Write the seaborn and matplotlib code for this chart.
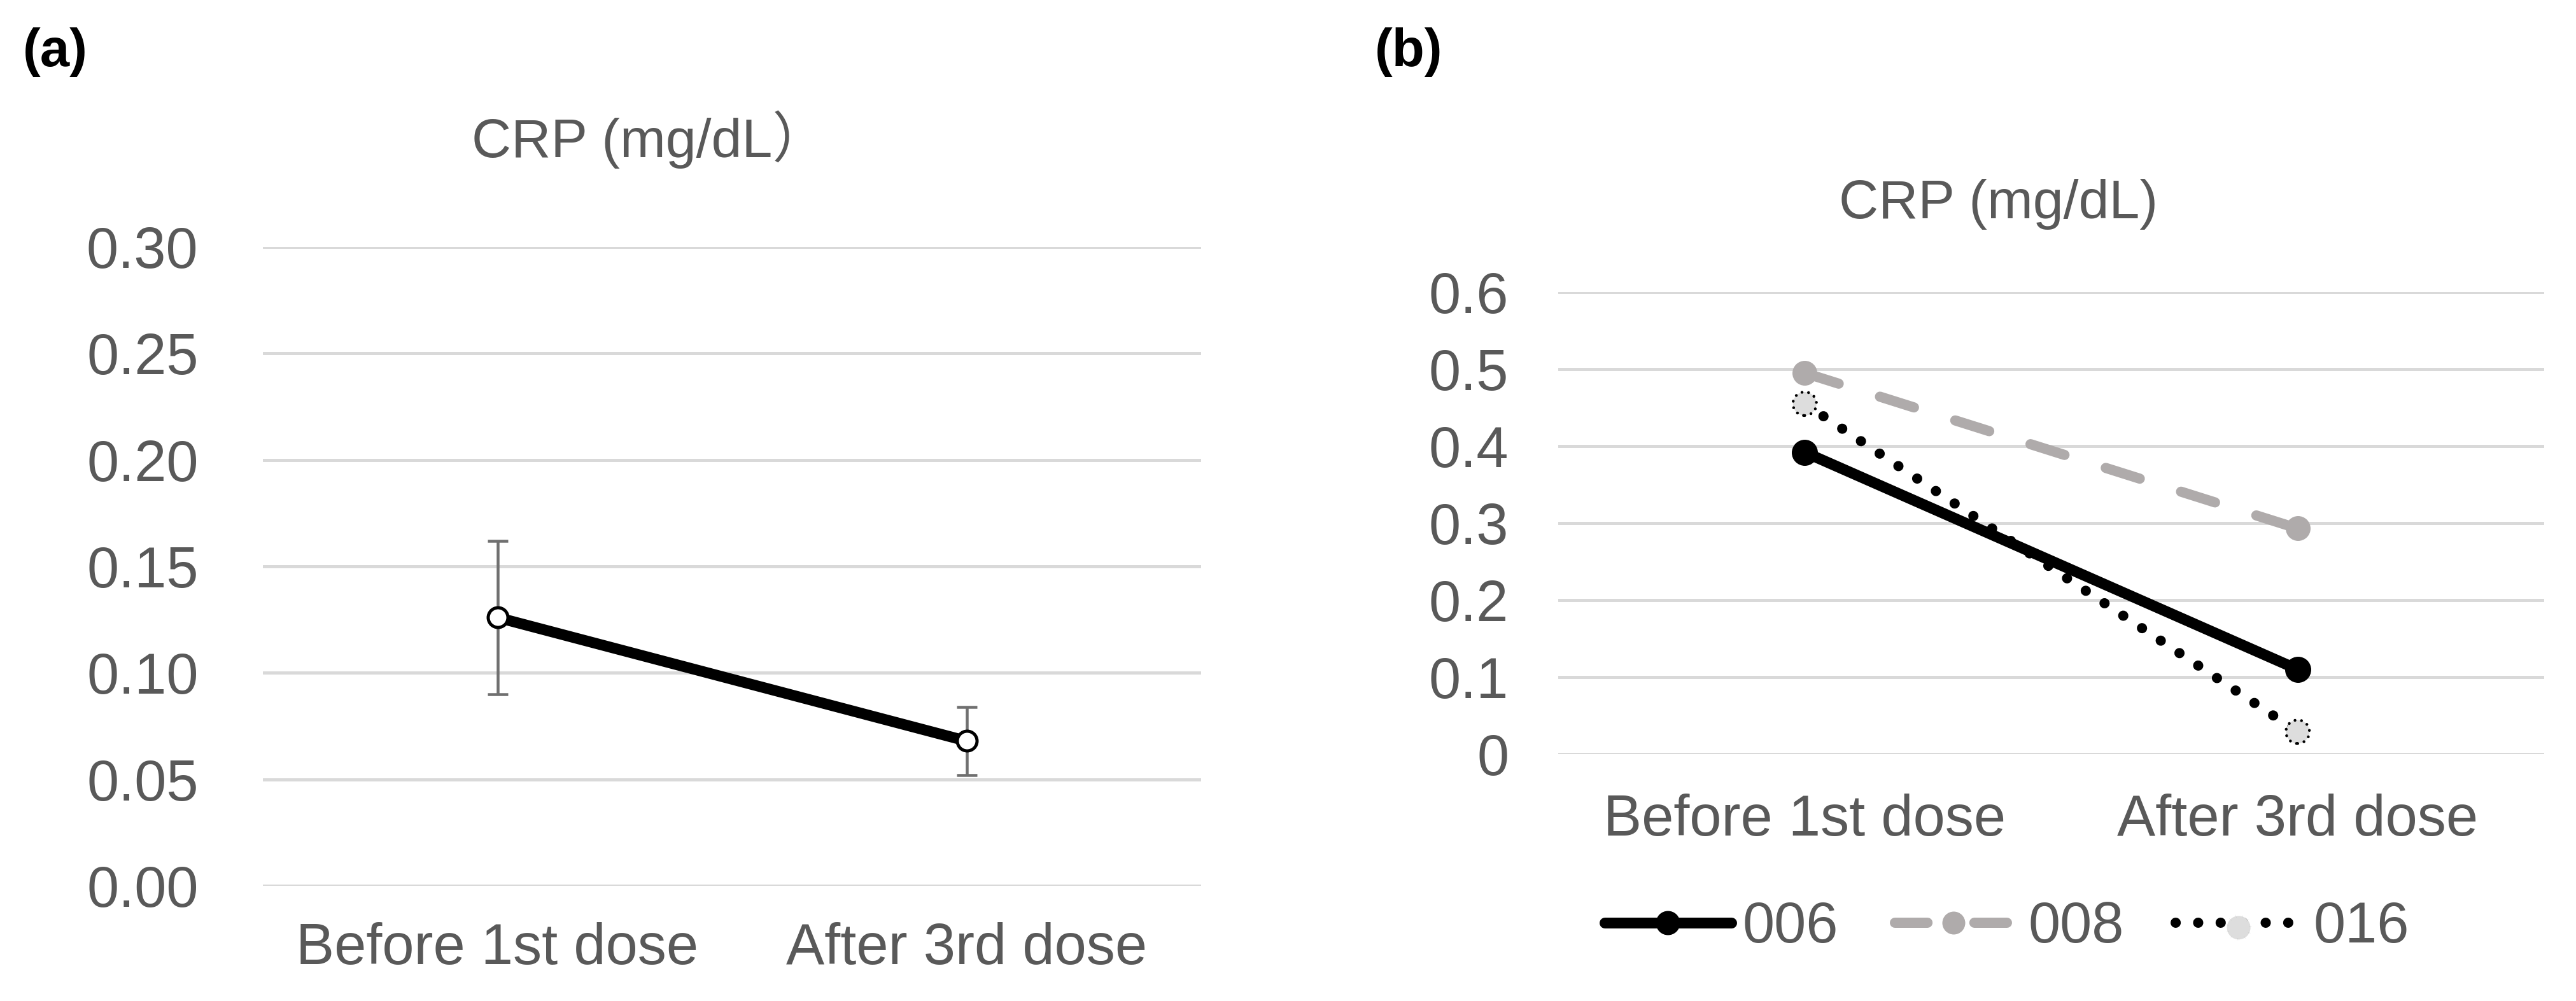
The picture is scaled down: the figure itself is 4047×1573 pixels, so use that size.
import numpy as np
import matplotlib.pyplot as plt
import seaborn as sns
from matplotlib.lines import Line2D
from matplotlib.legend_handler import HandlerTuple

# data
doses = ['Before 1st dose', 'After 3rd dose']

# (a) group mean CRP with error bars
crp_mean = [0.126, 0.068]
crp_err = [0.036, 0.016]
yticks_a = [0.00, 0.05, 0.10, 0.15, 0.20, 0.25, 0.30]
ytick_labels_a = ['0.00', '0.05', '0.10', '0.15', '0.20', '0.25', '0.30']

# (b) individual patients
patients = ['006', '008', '016']
crp_006 = [0.392, 0.110]
crp_008 = [0.495, 0.293]
crp_016 = [0.455, 0.029]
yticks_b = [0, 0.1, 0.2, 0.3, 0.4, 0.5, 0.6]
ytick_labels_b = ['0', '0.1', '0.2', '0.3', '0.4', '0.5', '0.6']

sns.set_theme(style='white')
plt.rcParams['font.family'] = ['Liberation Sans', 'Noto Sans CJK JP', 'DejaVu Sans']

PX = 0.72  # points per pixel at dpi 100
W, H = 4047, 1573
TXT = '#595959'
GRID = '#D9D9D9'
GRAY = '#AFABAB'

fig = plt.figure(figsize=(W / 100, H / 100), dpi=100)
ax_a = fig.add_axes([413 / W, 1 - 1392 / H, (1887 - 413) / W, (1392 - 388) / H])
ax_b = fig.add_axes([2448 / W, 1 - 1185 / H, (3997 - 2448) / W, (1185 - 459) / H])

# ---- panel (a)
ax_a.errorbar(doses, crp_mean, yerr=crp_err, fmt='none', ecolor='#707070',
              elinewidth=4.5 * PX, capsize=16 * PX, capthick=4.5 * PX, zorder=2)
sns.lineplot(x=doses, y=crp_mean, ax=ax_a, sort=False, errorbar=None,
             color='black', lw=17 * PX, marker='o', ms=31 * PX,
             mfc='white', mec='black', mew=5 * PX, zorder=3)

ax_a.set_ylim(0, 0.30)
ax_a.set_yticks(yticks_a)
ax_a.set_yticklabels(ytick_labels_a)
ax_a.tick_params(axis='y', length=0, pad=73, labelsize=65, labelcolor=TXT)
ax_a.tick_params(axis='x', length=0, pad=41, labelsize=65, labelcolor=TXT)

# ---- panel (b)
sns.lineplot(x=doses, y=crp_006, ax=ax_b, sort=False, errorbar=None,
             color='black', lw=17 * PX, marker='o', ms=41 * PX, mew=0,
             solid_capstyle='round', zorder=3)
sns.lineplot(x=doses, y=crp_008, ax=ax_b, sort=False, errorbar=None,
             color=GRAY, lw=16 * PX, linestyle=(0, (3.5, 4.25)), dash_capstyle='round',
             marker='o', ms=39 * PX, mew=0, zorder=3)
sns.lineplot(x=doses, y=crp_016, ax=ax_b, sort=False, errorbar=None,
             color='black', lw=16 * PX, linestyle=(0, (0.01, 2.2)), dash_capstyle='round',
             zorder=3)
sns.scatterplot(x=doses, y=crp_016, ax=ax_b, s=(37 * PX) ** 2, color='#DDDDDD',
                edgecolor='black', linewidth=4.5 * PX, linestyle=(0, (0.01, 2.3)),
                capstyle='round', zorder=4)
dot_markers = ax_b.collections[-1]

ax_b.set_ylim(0, 0.6)
ax_b.set_yticks(yticks_b)
ax_b.set_yticklabels(ytick_labels_b)
ax_b.tick_params(axis='y', length=0, pad=56, labelsize=65, labelcolor=TXT)
ax_b.tick_params(axis='x', length=0, pad=45, labelsize=65, labelcolor=TXT)

for ax in (ax_a, ax_b):
    ax.set_xlim(-0.5, 1.5)
    ax.set_xlabel('')
    ax.set_ylabel('')
    for s in ax.spines.values():
        s.set_visible(False)
    ax.yaxis.grid(True, color=GRID, lw=5 * PX)
    ax.xaxis.grid(False)
    ax.set_axisbelow(True)

# legend for (b)
h006 = Line2D([], [], color='black', lw=17 * PX, marker='o', ms=38 * PX, mew=0,
              solid_capstyle='round')
h008 = Line2D([], [], color=GRAY, lw=16 * PX, linestyle=(7.3, (3.2, 4.6)),
              dash_capstyle='round', marker='o', ms=36 * PX, mew=0)
h016 = Line2D([], [], color='black', lw=16 * PX, linestyle=(0, (0.01, 2.2)),
              dash_capstyle='round')
fig.legend(handles=[h006, h008, (h016, dot_markers)], labels=patients,
           handler_map={tuple: HandlerTuple(ndivide=1)},
           loc='center', bbox_to_anchor=(3153 / W, 1 - 1458 / H), ncol=3,
           frameon=False, fontsize=65, labelcolor=TXT, scatterpoints=1,
           handlelength=2.2, handletextpad=0.2, columnspacing=0.9)

# titles and panel letters
fig.text(1020 / W, 1 - 247 / H, 'CRP (mg/dL）', ha='center', va='baseline',
         fontsize=62, color=TXT)
fig.text(3140 / W, 1 - 343 / H, 'CRP (mg/dL)', ha='center', va='baseline',
         fontsize=62, color=TXT)
fig.text(36 / W, 1 - 104 / H, '(a)', ha='left', va='baseline', fontsize=60,
         fontweight='bold', color='black')
fig.text(2160 / W, 1 - 104 / H, '(b)', ha='left', va='baseline', fontsize=60,
         fontweight='bold', color='black')

fig.savefig('out.png', dpi=100)
